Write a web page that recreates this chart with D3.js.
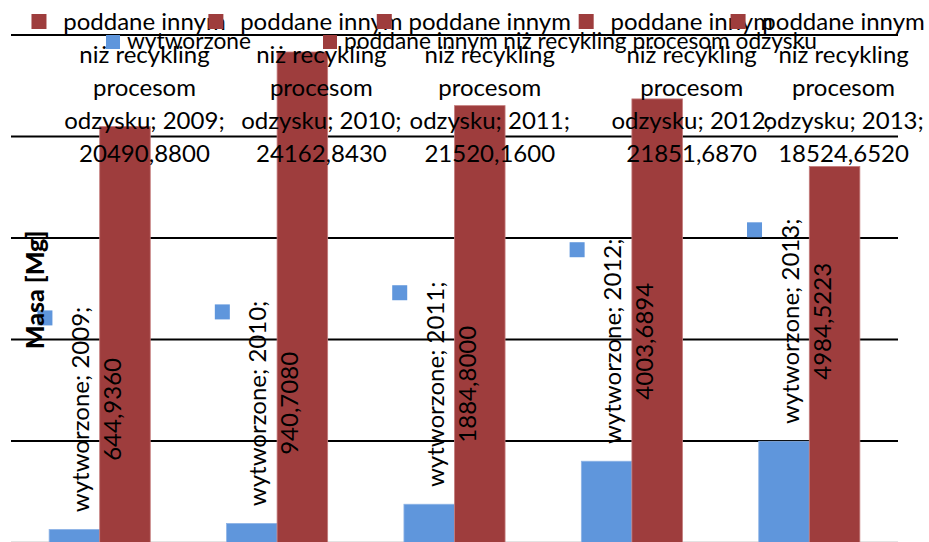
<!DOCTYPE html>
<html lang="pl">
<head>
    <meta charset="UTF-8">
    <title>Masa odpadów</title>
    <style>
        body { margin: 0; background: #fff; }
        svg { display: block; font-family: Lato, "Open Sans", sans-serif; }
    </style>
</head>
<body>
    <div id="chart"></div>

    <script src="https://cdnjs.cloudflare.com/ajax/libs/d3/7.8.5/d3.min.js"></script>
    <script>
        // Dane
        const years = ["2009", "2010", "2011", "2012", "2013"];
        const seriesNames = ["wytworzone", "poddane innym niż recykling procesom odzysku"];
        const wytworzone = [644.9360, 940.7080, 1884.8000, 4003.6894, 4984.5223];
        const poddane = [20490.8800, 24162.8430, 21520.1600, 21851.6870, 18524.6520];
        const yTicks = [0, 5000, 10000, 15000, 20000, 25000];
        const axisTitle = "Masa [Mg]";

        const colors = ["#5f96dc", "#9e3d3d"];
        const edges = ["#8fb4e6", "#c47c7c"];

        const width = 929, height = 542;
        const plot = { left: 11, right: 898, top: 35, bottom: 542.5 };

        // liczby w formacie polskim: 4 miejsca po przecinku
        const fmt = v => v.toFixed(4).replace(".", ",");

        const svg = d3.select("#chart")
                      .append("svg")
                      .attr("width", width)
                      .attr("height", height);

        const x0 = d3.scaleBand()
                     .domain(years)
                     .range([plot.left, plot.right])
                     .paddingInner(0.43)
                     .paddingOuter(0.215);

        const x1 = d3.scaleBand()
                     .domain([0, 1])
                     .range([0, x0.bandwidth()]);

        const y = d3.scaleLinear()
                    .domain([0, 25000])
                    .range([plot.bottom, plot.top]);

        // linie siatki
        svg.append("g")
           .selectAll("line")
           .data(yTicks.slice(1))
           .enter()
           .append("line")
           .attr("x1", plot.left)
           .attr("x2", plot.right)
           .attr("y1", d => y(d))
           .attr("y2", d => y(d))
           .attr("stroke", "#000")
           .attr("stroke-width", 2);

        svg.append("line")
           .attr("x1", plot.left).attr("x2", plot.right)
           .attr("y1", y(0) - 1).attr("y2", y(0) - 1)
           .attr("stroke", "#e3e3e3");

        // słupki
        const rows = years.map((yr, i) => ({ year: yr, values: [wytworzone[i], poddane[i]] }));

        const groups = svg.append("g")
                          .selectAll("g")
                          .data(rows)
                          .enter()
                          .append("g")
                          .attr("transform", d => "translate(" + x0(d.year) + ",0)");

        groups.selectAll("rect")
              .data(d => d.values.map((v, s) => ({ v: v, s: s })))
              .enter()
              .append("rect")
              .attr("x", d => x1(d.s))
              .attr("width", x1.bandwidth())
              .attr("y", d => y(d.v))
              .attr("height", d => y(0) - y(d.v))
              .attr("fill", d => colors[d.s])
              .attr("stroke", d => edges[d.s])
              .attr("stroke-width", 0.8);

        // etykiety serii "wytworzone" (obrócone, nad słupkiem)
        const blue = svg.append("g");
        years.forEach((yr, i) => {
            const cx = x0(yr) + x1(0) + x1.bandwidth() / 2 + 21;
            const cy = y(wytworzone[i]) - 120;
            blue.append("rect")
                .attr("x", cx - 58).attr("y", cy - 99)
                .attr("width", 15).attr("height", 15)
                .attr("fill", colors[0]);
            const t = blue.append("text")
                          .attr("transform", "translate(" + cx + "," + cy + ") rotate(-90)")
                          .attr("text-anchor", "middle")
                          .style("font-size", "24px")
                          .attr("fill", "#000");
            t.append("tspan").attr("x", 0).attr("y", -16).attr("dominant-baseline", "central")
             .text(seriesNames[0] + "; " + yr + ";");
            t.append("tspan").attr("x", 0).attr("y", 16).attr("dominant-baseline", "central")
             .text(fmt(wytworzone[i]));
        });

        // etykiety drugiej serii (przypięte do góry wykresu)
        const labelDx = [19.5, 19, 10, 34.5, 9];
        const redLines = ["poddane innym", "niż recykling", "procesom"];
        const baselines = [30, 63, 96, 129, 162];
        const red = svg.append("g");
        years.forEach((yr, i) => {
            const cx = x0(yr) + x1(1) + x1.bandwidth() / 2 + labelDx[i];
            const lines = redLines.concat(["odzysku; " + yr + ";", fmt(poddane[i])]);
            red.append("g")
               .selectAll("text")
               .data(lines)
               .enter()
               .append("text")
               .attr("x", cx)
               .attr("y", (d, k) => baselines[k])
               .attr("text-anchor", "middle")
               .style("font-size", "24px")
               .text(d => d);
            red.append("rect")
               .attr("x", cx - 113).attr("y", 14)
               .attr("width", 15).attr("height", 15)
               .attr("fill", colors[1]);
        });

        // legenda
        const legend = svg.append("g");
        const legendX = [106, 323];
        seriesNames.forEach((name, s) => {
            legend.append("rect")
                  .attr("x", legendX[s]).attr("y", 35)
                  .attr("width", 14).attr("height", 14)
                  .attr("fill", colors[s]);
            legend.append("text")
                  .attr("x", legendX[s] + 21)
                  .attr("y", 49)
                  .style("font-size", "22.7px")
                  .text(name);
        });

        // tytuł osi
        svg.append("text")
           .attr("transform", "translate(34,290) rotate(-90)")
           .attr("text-anchor", "middle")
           .attr("dominant-baseline", "central")
           .style("font-size", "25px")
           .style("font-weight", "900")
           .text(axisTitle);
    </script>
</body>
</html>
